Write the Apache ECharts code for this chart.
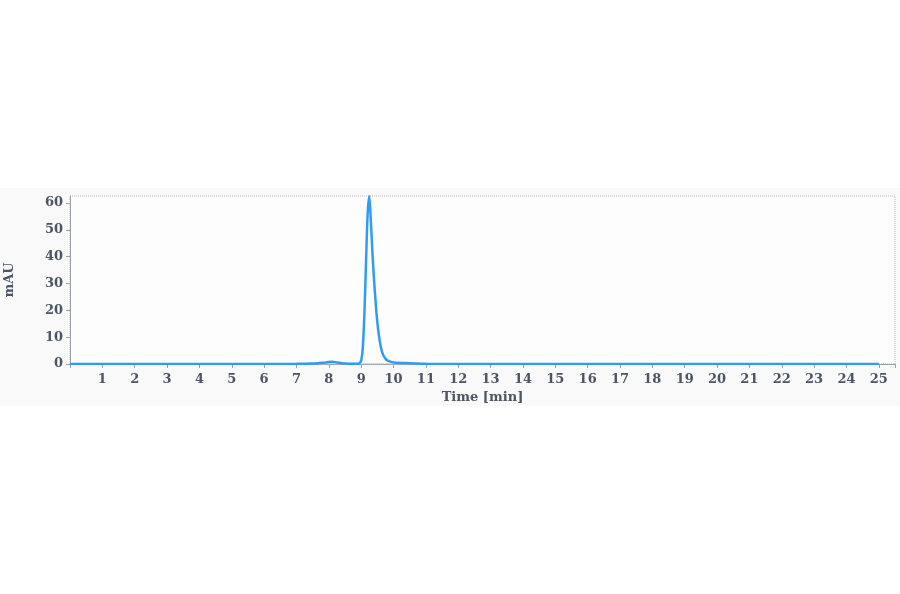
<!DOCTYPE html>
<html><head><meta charset="utf-8">
<script src="https://cdn.jsdelivr.net/npm/echarts@6/dist/echarts.min.js"></script>
<style>html,body{margin:0;padding:0;background:#fff;}#c{width:900px;height:594px;}</style>
</head><body><div id="c"></div>
<script>
// Chromatogram trace (time in min, absorbance in mAU)
const timeMin = [0, 1, 2, 3, 4, 5, 6, 7, 7.5, 7.7, 7.9, 8.0, 8.1, 8.2, 8.3, 8.4, 8.5, 8.6, 8.7, 8.8, 8.9, 8.95,
  9.0, 9.05, 9.1, 9.15, 9.2, 9.25, 9.3, 9.35, 9.4, 9.45, 9.5, 9.55, 9.6, 9.65, 9.7, 9.75, 9.8, 9.9,
  10.0, 10.2, 10.5, 10.8, 11, 12, 13, 14, 15, 16, 17, 18, 19, 20, 21, 22, 23, 24, 25];
const mAU = [0, 0, 0, 0, 0, 0, 0, 0.05, 0.15, 0.35, 0.6, 0.75, 0.8, 0.7, 0.5, 0.3, 0.15, 0.08, 0.05, 0.05, 0.1, 0.3,
  1.2, 6, 19, 38, 56, 62.5, 53, 41, 31, 22.5, 15.5, 10.5, 6.8, 4.3, 2.9, 2.0, 1.4, 0.9,
  0.6, 0.4, 0.3, 0.15, 0.05, 0, 0, 0, 0, 0, 0, 0, 0, 0, 0, 0, 0, 0, 0];
const refTime = [0, 25];
const refVal = [0, 0];
const yTicks = [0, 10, 20, 30, 40, 50, 60];

const trace = timeMin.map((t, i) => [t, mAU[i]]);
const ref = refTime.map((t, i) => [t, refVal[i]]);
const font = 'DejaVu Serif';
const txt = '#4b5563';

const chart = echarts.init(document.getElementById('c'));
chart.setOption({
  backgroundColor: '#ffffff',
  animation: false,
  graphic: [{type: 'rect', z: -10, shape: {x: 0, y: 188, width: 900, height: 218}, style: {fill: '#f9f9f9'}}],
  grid: {left: 70, right: 5, top: 196, bottom: 230, show: true, backgroundColor: '#fdfdfd',
    borderColor: '#b8b8b8', borderWidth: 1, borderType: 'dotted', containLabel: false, outerBoundsMode: 'none'},
  xAxis: {
    type: 'value', min: 0, max: 25.5, interval: 1,
    name: 'Time [min]', nameLocation: 'middle', nameGap: 27,
    nameTextStyle: {fontFamily: font, fontSize: 13, color: txt, fontWeight: 'bold'},
    axisLine: {show: true, lineStyle: {color: '#9aa0a6', width: 1}},
    axisTick: {show: true, length: 4, lineStyle: {color: '#9aa0a6'}},
    axisLabel: {fontFamily: font, fontSize: 13, color: txt, margin: 9, fontWeight: 600,
      formatter: v => (v === 0 || v > 25) ? '' : String(v)},
    splitLine: {show: false}
  },
  yAxis: {
    type: 'value', min: 0, max: 62.6, interval: 10,
    name: 'mAU', nameLocation: 'middle', nameGap: 54, nameRotate: 90,
    nameTextStyle: {fontFamily: font, fontSize: 13, color: txt, fontWeight: 'bold'},
    axisLine: {show: true, lineStyle: {color: '#9aa0a6', width: 1}},
    axisTick: {show: true, length: 4, lineStyle: {color: '#9aa0a6'}},
    axisLabel: {fontFamily: font, fontSize: 13, color: txt, margin: 7, fontWeight: 'bold', showMaxLabel: false,
      formatter: v => yTicks.includes(v) ? String(v) : ''},
    splitLine: {show: false}
  },
  series: [
    {type: 'line', data: ref, showSymbol: false, lineStyle: {color: '#c8c8c8', width: 1}, z: 1},
    {type: 'line', data: trace, showSymbol: false, smooth: 0.3, lineStyle: {color: '#2f9cf2', width: 2.5}, z: 2}
  ]
});
</script></body></html>
